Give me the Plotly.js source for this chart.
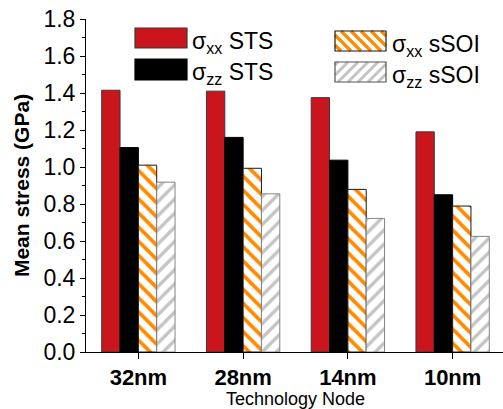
<!DOCTYPE html>
<html>
<head>
<meta charset="utf-8">
<script src="https://cdn.plot.ly/plotly-3.0.1.min.js"></script>
<style>html,body{margin:0;padding:0;overflow:hidden;background:#fff}</style>
</head>
<body>
<div id="chart" style="width:506px;height:409px"></div>
<script>
const categories = ['32nm', '28nm', '14nm', '10nm'];
const sxxSTS = [1.415, 1.41, 1.375, 1.19];
const szzSTS = [1.105, 1.16, 1.037, 0.85];
const sxxSOI = [1.01, 0.993, 0.879, 0.789];
const szzSOI = [0.918, 0.855, 0.722, 0.625];
const seriesNames = ['σ<sub>xx</sub> STS', 'σ<sub>zz</sub> STS', 'σ<sub>xx</sub> sSOI', 'σ<sub>zz</sub> sSOI'];

const FONT = 'Arial, "Liberation Sans", sans-serif';
const RED = '#c9151b', ORANGE = '#ff8a00', GRAY = '#c4c4c4';

const traces = [
  {type: 'bar', x: categories, y: sxxSTS, name: seriesNames[0],
   marker: {color: RED, line: {color: '#3a3a3a', width: 1}}},
  {type: 'bar', x: categories, y: szzSTS, name: seriesNames[1],
   marker: {color: '#000', line: {color: '#000', width: 1}}},
  {type: 'bar', x: categories, y: sxxSOI, name: seriesNames[2],
   marker: {color: '#fff', line: {color: '#1a1a1a', width: 1},
            pattern: {shape: '\\', fgcolor: ORANGE, bgcolor: '#fff', fgopacity: 1, size: 10, solidity: 0.38, fillmode: 'replace'}}},
  {type: 'bar', x: categories, y: szzSOI, name: seriesNames[3],
   marker: {color: '#fff', line: {color: '#858585', width: 1},
            pattern: {shape: '/', fgcolor: GRAY, bgcolor: '#fff', fgopacity: 1, size: 10, solidity: 0.34, fillmode: 'replace'}}}
];
traces.forEach(t => { t.showlegend = false; t.hoverinfo = 'skip'; });

// plot-area pixel frame (for the hand-drawn legend)
const L = 86, R = 505, T = 19, B = 352;
const px = p => (p - L) / (R - L);
const py = p => (B - p) / (B - T);

const shapes = [];
const annotations = [];
function swatch(x0, y0, x1, y1, fill, border, hatch) {
  shapes.push({type: 'rect', xref: 'paper', yref: 'paper', x0: px(x0), x1: px(x1), y0: py(y1), y1: py(y0),
               fillcolor: fill, line: {width: 0}, layer: 'above'});
  if (hatch) {
    const step = 10;
    let d = '';
    for (let c = -200; c < 600; c += step) {
      let ya, yb, xa, xb;
      if (hatch.dir === '\\') {
        ya = Math.max(y0, x0 - c); yb = Math.min(y1, x1 - c);
        if (ya >= yb) continue;
        xa = c + ya; xb = c + yb;
      } else {
        ya = Math.max(y0, c - x1); yb = Math.min(y1, c - x0);
        if (ya >= yb) continue;
        xa = c - ya; xb = c - yb;
      }
      d += `M${px(xa)},${py(ya)}L${px(xb)},${py(yb)}`;
    }
    shapes.push({type: 'path', xref: 'paper', yref: 'paper', path: d,
                 line: {color: hatch.color, width: hatch.width}, layer: 'above'});
  }
  shapes.push({type: 'rect', xref: 'paper', yref: 'paper', x0: px(x0), x1: px(x1), y0: py(y1), y1: py(y0),
               fillcolor: 'rgba(0,0,0,0)', line: {color: border, width: 1.2}, layer: 'above'});
}
function label(x, y, text) {
  annotations.push({xref: 'paper', yref: 'paper', x: px(x), y: py(y), xanchor: 'left', yanchor: 'middle',
                    text: text, showarrow: false, font: {family: FONT, size: 23, color: '#000'}});
}
swatch(135, 28, 187, 48, RED, '#3a3a3a');
swatch(135, 59, 187, 80, '#000', '#000');
swatch(335, 31, 386, 51, '#fff', '#1a1a1a', {dir: '\\', color: ORANGE, width: 3.2});
swatch(335, 62, 386, 82, '#fff', '#555', {dir: '/', color: GRAY, width: 3});
label(190, 42, seriesNames[0]);
label(190, 73, seriesNames[1]);
label(390, 45, seriesNames[2]);
label(390, 76, seriesNames[3]);

const layout = {
  width: 506, height: 409,
  margin: {l: L, r: 506 - R, t: T, b: 409 - B},
  paper_bgcolor: '#fff', plot_bgcolor: '#fff',
  barmode: 'group', bargap: 0.3, bargroupgap: 0,
  showlegend: false,
  font: {family: FONT, color: '#000'},
  xaxis: {
    type: 'category', range: [-0.5, 3.5], showgrid: false,
    showline: true, linecolor: '#000', linewidth: 1,
    ticks: 'outside', ticklen: 6, tickwidth: 1, tickcolor: '#000',
    tickfont: {family: FONT, size: 22, weight: 'bold', color: '#000'},
    title: {text: 'Technology Node', font: {family: FONT, size: 18, color: '#000'}, standoff: 6}
  },
  xaxis2: {
    overlaying: 'x', side: 'top', anchor: 'y', range: [-0.5, 3.5],
    tickvals: [0, 1, 2, 3], showticklabels: false, showgrid: false, zeroline: false,
    showline: true, linecolor: '#000', linewidth: 1,
    ticks: 'inside', ticklen: 5, tickwidth: 1, tickcolor: '#000'
  },
  yaxis: {
    range: [0, 1.8], dtick: 0.2, tick0: 0, tickformat: '.1f', showgrid: false, zeroline: false,
    showline: true, linecolor: '#000', linewidth: 1,
    ticks: 'outside', ticklen: 5, tickwidth: 1, tickcolor: '#000',
    minor: {dtick: 0.1, ticks: 'outside', ticklen: 3, tickcolor: '#000', showgrid: false},
    tickfont: {family: FONT, size: 23, color: '#000'},
    title: {text: 'Mean stress (GPa)', font: {family: FONT, size: 21, weight: 'bold', color: '#000'}, standoff: 8}
  },
  yaxis2: {
    overlaying: 'y', side: 'right', anchor: 'x', range: [0, 8], dtick: 1, tick0: 0,
    showticklabels: false, showgrid: false, zeroline: false,
    showline: true, linecolor: '#000', linewidth: 1,
    ticks: 'inside', ticklen: 5, tickwidth: 1, tickcolor: '#000',
    minor: {dtick: 0.5, ticks: 'inside', ticklen: 3, tickcolor: '#000', showgrid: false}
  },
  shapes: shapes,
  annotations: annotations
};

Plotly.newPlot('chart', traces, layout, {staticPlot: true, displayModeBar: false});
</script>
</body>
</html>
